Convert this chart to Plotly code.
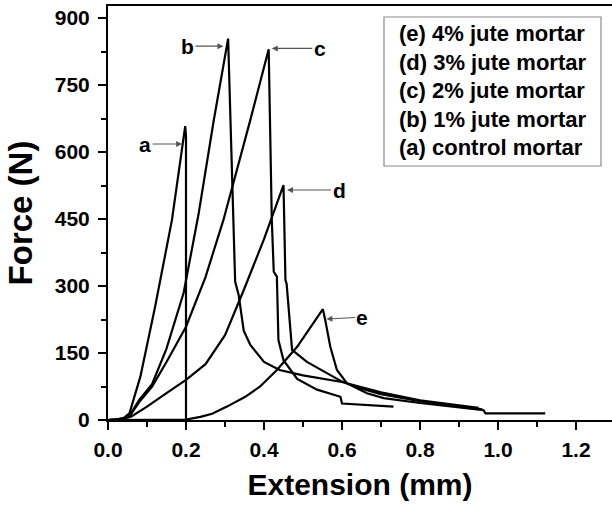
import plotly.graph_objects as go

# ---- data ----
a_x = [0, 0.02, 0.04, 0.055, 0.083, 0.12, 0.164, 0.19, 0.198, 0.2, 0.2]
a_y = [0, 1, 4, 15, 97, 250, 448, 600, 658, 635, 0]

b_x = [0, 0.02, 0.04, 0.057, 0.08, 0.113, 0.15, 0.194, 0.232, 0.271, 0.308,
       0.322, 0.326, 0.335, 0.348, 0.365, 0.40, 0.44, 0.5, 0.6, 0.7, 0.8, 0.9, 0.95]
b_y = [0, 1, 4, 12, 45, 80, 160, 285, 460, 670, 854,
       448, 310, 280, 200, 168, 130, 112, 100, 85, 62, 44, 33, 27]

c_x = [0, 0.02, 0.04, 0.057, 0.08, 0.113, 0.15, 0.2, 0.25, 0.296, 0.365, 0.412,
       0.42, 0.425, 0.433, 0.437, 0.45, 0.485, 0.536, 0.596, 0.6, 0.732]
c_y = [0, 1, 4, 11, 40, 75, 130, 209, 320, 448, 672, 830,
       448, 332, 321, 179, 134, 92, 68, 52, 37, 30]

d_x = [0, 0.02, 0.04, 0.06, 0.1, 0.15, 0.2, 0.25, 0.3, 0.35, 0.4, 0.45,
       0.455, 0.458, 0.472, 0.51, 0.55, 0.6, 0.65, 0.7, 0.8, 0.9, 0.96]
d_y = [0, 1, 3, 8, 30, 60, 90, 125, 190, 295, 405, 526,
       313, 305, 157, 130, 110, 86, 70, 58, 42, 31, 24]

e_x = [0, 0.1, 0.2, 0.237, 0.267, 0.305, 0.352, 0.39, 0.433, 0.485, 0.527, 0.551,
       0.557, 0.57, 0.587, 0.613, 0.664, 0.707, 0.8, 0.878, 0.963, 0.968, 1.121]
e_y = [0, 0, 1, 7, 14, 30, 52, 75, 112, 164, 216, 248,
       224, 164, 112, 82, 60, 49, 38, 30, 22, 15, 15]

series = [("(a) control mortar", a_x, a_y),
          ("(b) 1% jute mortar", b_x, b_y),
          ("(c) 2% jute mortar", c_x, c_y),
          ("(d) 3% jute mortar", d_x, d_y),
          ("(e) 4% jute mortar", e_x, e_y)]

legend_lines = ["(e) 4% jute mortar", "(d) 3% jute mortar", "(c) 2% jute mortar",
                "(b) 1% jute mortar", "(a) control mortar"]

# label, arrow tip (x, y), text offset in px
labels = [("a", 0.19, 618, -37, 0),
          ("b", 0.296, 837, -36, 0),
          ("c", 0.42, 832, 48, 0),
          ("d", 0.459, 515, 52, 0),
          ("e", 0.56, 226, 36, -2)]

FONT = "Liberation Sans, Arial, Helvetica, sans-serif"

fig = go.Figure()
for name, xs, ys in series:
    fig.add_trace(go.Scatter(x=xs, y=ys, mode="lines", name=name,
                             line=dict(color="black", width=2.2), showlegend=False))

for lab, tx, ty, ax, ay in labels:
    fig.add_annotation(x=tx, y=ty, xref="x", yref="y", text=lab, showarrow=True,
                       ax=ax, ay=ay, arrowhead=2, arrowsize=1, arrowwidth=1.2,
                       arrowcolor="#555555",
                       font=dict(family=FONT, size=21, color="black", weight="bold"))

# legend box (text only, as in the reference)
fig.add_shape(type="rect", xref="paper", yref="paper",
              x0=(384 - 108) / 504, x1=(601 - 108) / 504,
              y0=(420 - 166) / 414, y1=(420 - 17) / 414,
              line=dict(color="#8a8a8a", width=1.2), fillcolor="white", layer="above")
fig.add_annotation(xref="paper", yref="paper", x=(397 - 108) / 504, y=(420 - 19) / 414,
                   xanchor="left", yanchor="top", align="left", showarrow=False,
                   text="<br>".join(legend_lines),
                   font=dict(family=FONT, size=22, color="black", weight="bold"))

axis_common = dict(showline=True, linecolor="black", linewidth=2, ticks="outside",
                   tickwidth=2, ticklen=8, tickcolor="black", showgrid=False,
                   zeroline=False,
                   tickfont=dict(family=FONT, size=21, color="black", weight="bold"))

fig.update_xaxes(range=[0, 504 / 390], tick0=0, dtick=0.2, tickformat=".1f",
                 mirror=True,
                 minor=dict(dtick=0.1, ticklen=5, tickwidth=2, tickcolor="black", ticks="outside"),
                 title=dict(text="Extension (mm)", standoff=14,
                            font=dict(family=FONT, size=30, color="black", weight="bold")),
                 ticklabelstandoff=2,
                 **axis_common)
fig.update_yaxes(range=[0, 927], tick0=0, dtick=150,
                 minor=dict(dtick=75, ticklen=5, tickwidth=2, tickcolor="black", ticks="outside"),
                 title=dict(text="Force (N)", standoff=12,
                            font=dict(family=FONT, size=33, color="black", weight="bold")),
                 ticklabelstandoff=4,
                 **axis_common)

fig.update_layout(width=612, height=510, margin=dict(l=108, r=0, t=6, b=90, autoexpand=False),
                  plot_bgcolor="white", paper_bgcolor="white", showlegend=False)

fig.write_html("out.html")
